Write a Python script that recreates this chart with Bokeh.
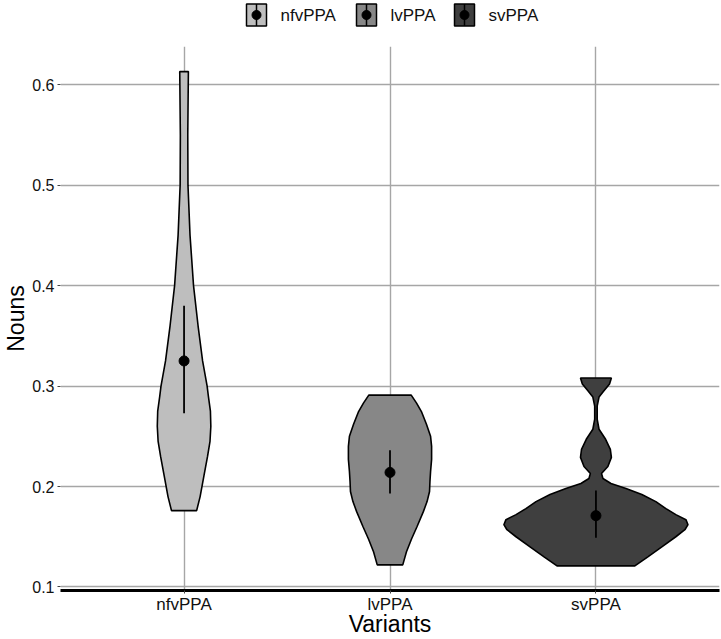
from bokeh.plotting import figure
from bokeh.models import FactorRange, Range1d, FixedTicker
from bokeh.embed import file_html
from bokeh.resources import INLINE
from bokeh.core.properties import value

# ---------------- data ----------------
variants = ["nfvPPA", "lvPPA", "svPPA"]
fills = ["#BEBEBE", "#878787", "#3F3F3F"]

# violin outlines: value on the y axis and half-width (category units)
nfv_y = [0.176, 0.190, 0.210, 0.230, 0.245, 0.260, 0.275, 0.290, 0.300, 0.325,
         0.360, 0.400, 0.450, 0.500, 0.550, 0.613]
nfv_w = [0.061, 0.078, 0.096, 0.114, 0.126, 0.130, 0.128, 0.118, 0.112, 0.090,
         0.068, 0.046, 0.029, 0.019, 0.018, 0.021]

lv_y = [0.122, 0.135, 0.148, 0.160, 0.175, 0.185, 0.195, 0.205, 0.215, 0.227,
        0.240, 0.250, 0.262, 0.274, 0.283, 0.291]
lv_w = [0.062, 0.080, 0.105, 0.131, 0.162, 0.180, 0.192, 0.194, 0.197, 0.202,
        0.202, 0.197, 0.177, 0.154, 0.129, 0.103]

sv_y = [0.121, 0.130, 0.140, 0.150, 0.157, 0.162, 0.167, 0.172, 0.178, 0.185,
        0.192, 0.198, 0.203, 0.208, 0.213, 0.220, 0.229, 0.237, 0.247, 0.257,
        0.267, 0.280, 0.289, 0.295, 0.302, 0.308]
sv_w = [0.189, 0.252, 0.320, 0.388, 0.432, 0.447, 0.437, 0.388, 0.340, 0.291,
        0.223, 0.146, 0.073, 0.034, 0.027, 0.058, 0.075, 0.070, 0.047, 0.015,
        0.006, 0.006, 0.015, 0.038, 0.066, 0.075]

means = [0.325, 0.214, 0.171]
lows = [0.273, 0.193, 0.149]
highs = [0.380, 0.236, 0.196]

y_ticks = [0.1, 0.2, 0.3, 0.4, 0.5, 0.6]

FONT = "Liberation Sans"
W = 721
LEG_H = 30
MAIN_H = 609

# ---------------- legend strip (own root) ----------------
leg = figure(width=W, height=LEG_H, x_range=Range1d(0, W), y_range=Range1d(LEG_H, 0),
             output_backend="svg", toolbar_location=None,
             min_border_left=0, min_border_right=0, min_border_top=0,
             min_border_bottom=0)
leg.axis.visible = False
leg.grid.visible = False
leg.outline_line_color = None

key_x = [256, 366, 464]       # layout positions of the legend keys (px)
key_y = [14.5, 14.5, 14.5]
key_top = [3.5, 3.5, 3.5]
key_bot = [25.5, 25.5, 25.5]
leg.rect(x=key_x, y=key_y, width=20, height=22, fill_color=fills,
         line_color="black", line_width=1.5)
leg.segment(x0=key_x, y0=key_top, x1=key_x, y1=key_bot,
            line_color="black", line_width=1.5)
leg.scatter(x=key_x, y=key_y, size=9, color="black")
leg.text(x=[k + 24 for k in key_x], y=key_y, text=variants,
         text_font=value(FONT), text_font_size="17px", text_baseline="middle",
         text_align="left", text_color="#111111")

# ---------------- main plot ----------------
p = figure(width=W, height=MAIN_H,
           x_range=FactorRange(factors=variants, range_padding=0.2 / 3,
                               range_padding_units="percent"),
           y_range=Range1d(0.0965, 0.638),
           output_backend="svg", toolbar_location=None,
           min_border_left=60, min_border_right=2, min_border_top=16,
           min_border_bottom=46)

p.outline_line_color = None
p.background_fill_color = "white"

for name, ys, ws, fc in [(variants[0], nfv_y, nfv_w, fills[0]),
                         (variants[1], lv_y, lv_w, fills[1]),
                         (variants[2], sv_y, sv_w, fills[2])]:
    xs = [(name, -w) for w in ws] + [(name, w) for w in reversed(ws)]
    yy = list(ys) + list(reversed(ys))
    p.patch(x=xs, y=yy, fill_color=fc, line_color="black", line_width=1.6)

p.segment(x0=variants, y0=lows, x1=variants, y1=highs, line_color="black",
          line_width=1.8)
p.scatter(x=variants, y=means, size=10, color="black")

ticker = FixedTicker(ticks=y_ticks)
p.yaxis.ticker = ticker
p.ygrid.ticker = ticker

for g in (p.xgrid, p.ygrid):
    g.grid_line_color = "#A6A6A6"
    g.grid_line_width = 1.4

p.yaxis.axis_line_color = None
p.yaxis.minor_tick_line_color = None
p.yaxis.major_tick_line_color = "#444444"
p.yaxis.major_tick_out = 3
p.yaxis.major_tick_in = 0
p.yaxis.major_label_standoff = 3
p.yaxis.axis_label = "Nouns"
p.yaxis.axis_label_standoff = 0
p.yaxis.major_label_text_font_size = "16px"

p.xaxis.axis_line_color = "black"
p.xaxis.axis_line_width = 3
p.xaxis.major_tick_line_color = "#444444"
p.xaxis.major_tick_out = 3
p.xaxis.major_tick_in = 0
p.xaxis.major_label_standoff = 1
p.xaxis.axis_label = "Variants"
p.xaxis.axis_label_standoff = -6
p.xaxis.major_label_text_font_size = "17px"

for ax in (p.xaxis, p.yaxis):
    ax.major_label_text_font = FONT
    ax.major_label_text_color = "#111111"
    ax.axis_label_text_font = FONT
    ax.axis_label_text_font_size = "23px"
    ax.axis_label_text_font_style = "normal"
    ax.axis_label_text_color = "black"

open("out.html", "w").write(file_html([leg, p], INLINE))
